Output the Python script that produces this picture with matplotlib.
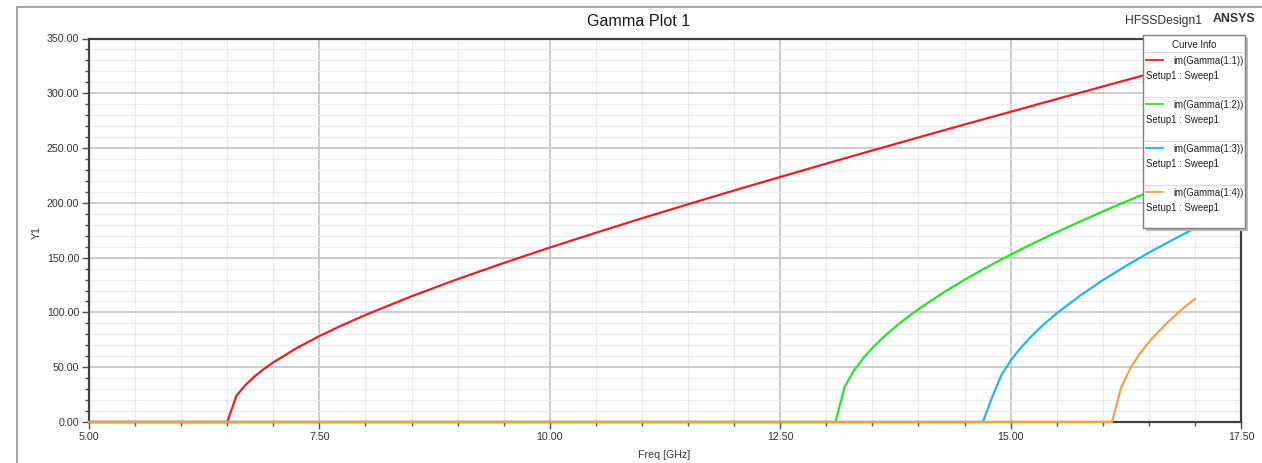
import matplotlib
matplotlib.use("Agg")
import matplotlib.pyplot as plt
from matplotlib.ticker import MultipleLocator, FormatStrFormatter
from matplotlib.patches import Rectangle
from matplotlib.lines import Line2D

plt.rcParams['font.family'] = ['Liberation Sans', 'DejaVu Sans']

# Swept frequency points [GHz] and im(Gamma) [rad/m] for each port mode
freq_11 = [5.0, 6.5, 6.6, 6.7, 6.8, 6.9, 7.0, 7.25, 7.5, 7.75, 8.0, 8.5, 9.0, 9.5,
           10.0, 10.5, 11.0, 11.5, 12.0, 12.5, 13.0, 13.5, 14.0, 14.5, 15.0,
           15.5, 16.0, 16.5, 17.0]
gamma_11 = [0.0, 0.0, 24.0, 34.0, 41.8, 48.5, 54.4, 67.3, 78.4, 88.4, 97.7, 114.7,
            130.4, 145.1, 159.2, 172.7, 185.9, 198.7, 211.3, 223.6, 235.8, 247.8,
            259.7, 271.5, 283.1, 294.7, 306.2, 317.6, 329.0]

freq_12 = [5.0, 13.1, 13.2, 13.3, 13.4, 13.5, 13.6, 13.7, 13.8, 13.9, 14.0, 14.25,
           14.5, 14.75, 15.0, 15.25, 15.5, 15.75, 16.0, 16.25, 16.5, 16.75, 17.0]
gamma_12 = [0.0, 0.0, 32.2, 46.9, 58.1, 67.5, 75.8, 83.3, 90.3, 96.8, 102.9, 117.0,
            129.8, 141.6, 152.7, 163.2, 173.2, 182.8, 192.1, 201.1, 209.8, 218.4, 226.7]

freq_13 = [5.0, 14.7, 14.8, 14.9, 15.0, 15.1, 15.2, 15.3, 15.4, 15.5, 15.75, 16.0,
           16.25, 16.5, 16.75, 17.0]
gamma_13 = [0.0, 0.0, 22.8, 42.7, 56.0, 66.7, 76.0, 84.4, 92.0, 99.1, 115.1, 129.4,
            142.4, 154.5, 165.9, 176.7]

freq_14 = [5.0, 16.1, 16.2, 16.3, 16.4, 16.5, 16.6, 16.7, 16.8, 16.9, 17.0]
gamma_14 = [0.0, 0.0, 31.5, 49.2, 62.1, 72.8, 82.1, 90.6, 98.4, 105.6, 112.4]

curve_names = ['im(Gamma(1:1))', 'im(Gamma(1:2))', 'im(Gamma(1:3))', 'im(Gamma(1:4))']
solution_name = 'Setup1 : Sweep1'
curve_colors = ['#ee1c24', '#22e622', '#1fb6f7', '#f8a040']

x_ticks = [5.0, 7.5, 10.0, 12.5, 15.0, 17.5]
y_ticks = [0, 50, 100, 150, 200, 250, 300, 350]

W, H = 1262, 463
fig = plt.figure(figsize=(W / 100, H / 100), dpi=100)
ax = fig.add_axes([89 / W, 1 - 422 / H, 1152 / W, 383.5 / H])

series = [(freq_11, gamma_11), (freq_12, gamma_12), (freq_13, gamma_13), (freq_14, gamma_14)]
for (f, g), c in zip(series, curve_colors):
    ax.plot(f, g, color=c, lw=1.6, solid_joinstyle='round', clip_on=False, zorder=3)

ax.set_xlim(x_ticks[0], x_ticks[-1])
ax.set_ylim(y_ticks[0], y_ticks[-1])
ax.set_xticks(x_ticks)
ax.set_yticks(y_ticks)
ax.xaxis.set_minor_locator(MultipleLocator(0.5))
ax.yaxis.set_minor_locator(MultipleLocator(10))
ax.xaxis.set_major_formatter(FormatStrFormatter('%.2f'))
ax.yaxis.set_major_formatter(FormatStrFormatter('%.2f'))

ax.grid(which='major', color='#c8c8c8', lw=1.3, zorder=0)
ax.grid(which='minor', color='#ececec', lw=0.8, zorder=0)
ax.set_axisbelow(True)

ax.tick_params(which='major', direction='out', length=5, width=1, color='#505050',
               labelsize=7.7, labelcolor='#333333', pad=2)
ax.tick_params(which='minor', direction='out', length=3, width=1, color='#505050')
for s in ax.spines.values():
    s.set_color('#404040')
    s.set_linewidth(1.6)

# Labels, title and banner text
fig.text(37 / W, 1 - 233 / H, 'Y1', rotation=90, ha='center', va='center',
         fontsize=7.7, color='#333333')
fig.text(664 / W, 1 - 455 / H, 'Freq [GHz]', ha='center', va='center',
         fontsize=7.7, color='#333333')
fig.text(639 / W, 1 - 22 / H, 'Gamma Plot 1', ha='center', va='center',
         fontsize=11.6, color='#1a1a1a')
fig.text(1125 / W, 1 - 21 / H, 'HFSSDesign1', ha='left', va='center',
         fontsize=8.7, color='#333333')
fig.text(1213 / W, 1 - 19 / H, 'ANSYS', ha='left', va='center',
         fontsize=8.8, fontweight='bold', color='#333333')

# Overlay in pixel coordinates for the frame and the curve-info box
ov = fig.add_axes([0, 0, 1, 1], zorder=10)
ov.set_xlim(0, W)
ov.set_ylim(H, 0)
ov.axis('off')
ov.patch.set_alpha(0)

ov.add_line(Line2D([16.5, 16.5], [7, H], color='#a8a8a8', lw=1.5))
ov.add_line(Line2D([16.5, W], [7, 7], color='#a8a8a8', lw=1.5))

bx0, by0, bx1, by1 = 1143, 35, 1245, 228
ov.add_patch(Rectangle((bx0 + 3, by0 + 3), bx1 - bx0, by1 - by0,
                       facecolor='#b8b8b8', edgecolor='none'))
ov.add_patch(Rectangle((bx0, by0), bx1 - bx0, by1 - by0,
                       facecolor='white', edgecolor='#808080', lw=1.0))
ov.text((bx0 + bx1) / 2, 45, 'Curve Info', ha='center', va='center',
        fontsize=6.9, color='#222222')
ov.add_line(Line2D([bx0 + 1, bx1 - 1], [52, 52], color='#dddddd', lw=0.8))

row_h = 44
for i, (name, c) in enumerate(zip(curve_names, curve_colors)):
    y0 = 61 + i * row_h
    ov.add_line(Line2D([1146, 1163], [y0 - 1, y0 - 1], color=c, lw=1.3))
    ov.text(1173, y0, name, ha='left', va='center', fontsize=6.9, color='#222222')
    ov.text(1146, y0 + 15, solution_name, ha='left', va='center', fontsize=6.9,
            color='#222222')
    if i < len(curve_names) - 1:
        ov.add_line(Line2D([bx0 + 1, bx1 - 1], [y0 + 36, y0 + 36],
                           color='#dddddd', lw=0.8))

fig.savefig('out.png', dpi=100, facecolor='white')
